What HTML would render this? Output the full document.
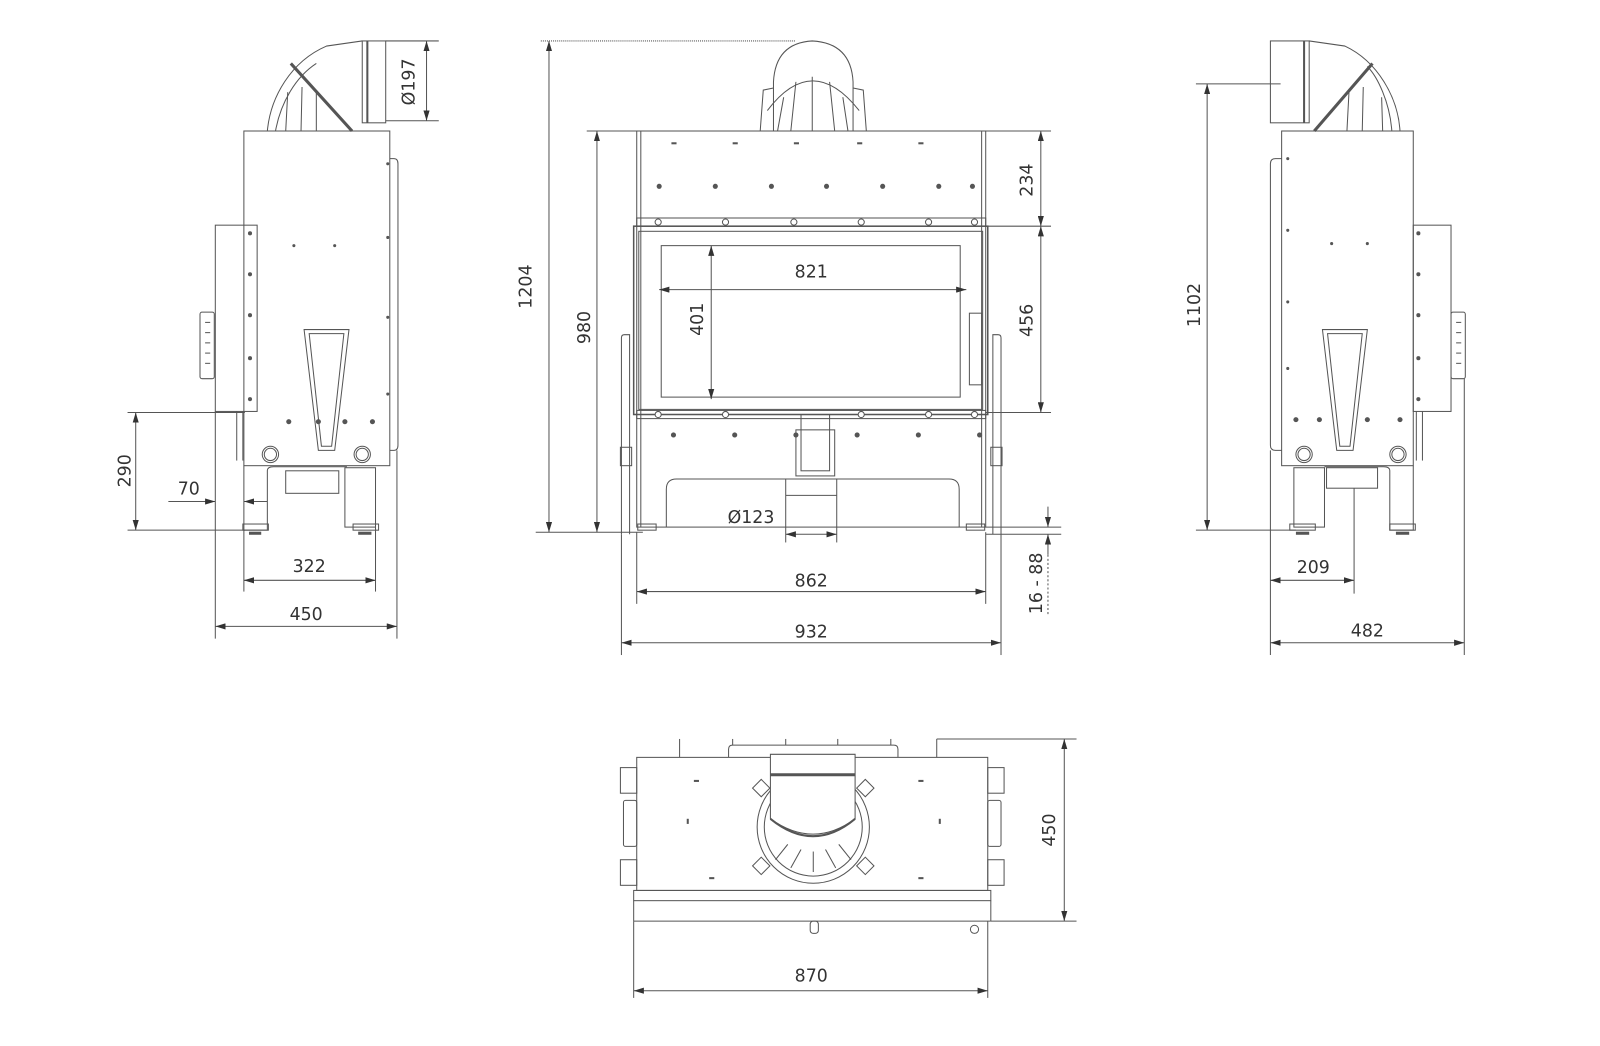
<!DOCTYPE html>
<html><head><meta charset="utf-8"><style>
html,body{margin:0;padding:0;background:#fff;}
svg{display:block;}
text{font-family:"DejaVu Sans","Liberation Sans",sans-serif;font-size:17px;fill:#333;}
</style></head><body>
<svg width="1600" height="1046" viewBox="0 0 1568 1022" preserveAspectRatio="none" xmlns="http://www.w3.org/2000/svg">
<defs>
<marker id="a" viewBox="0 0 10 6" refX="10" refY="3" markerWidth="10" markerHeight="6" orient="auto-start-reverse" markerUnits="userSpaceOnUse"><path d="M0,0 L10,3 L0,6 z" fill="#333"/></marker>
</defs>
<g fill="none" stroke="#555" stroke-width="1">

<!-- ================= LEFT SIDE VIEW ================= -->
<!-- elbow -->
<path d="M262,128 C265,95 285,60 320,45 L355,40"/>
<path d="M270,128 C275,100 290,75 310,62"/>
<path d="M285,62 L345,128" stroke-width="3"/>
<path d="M280,128 L282,90 M295,128 L296,85 M310,128 L310,90"/>
<rect x="355" y="40" width="23" height="80"/>
<line x1="360" y1="40" x2="360" y2="120" stroke-width="2"/>
<!-- body -->
<rect x="239" y="128" width="143" height="327"/>
<path d="M382,155 L386,155 Q390,155 390,160 L390,435 Q390,440 386,440 L382,440"/>
<!-- left box -->
<rect x="211" y="220" width="41" height="182"/>
<rect x="196" y="305" width="14" height="65" rx="2"/>
<line x1="201" y1="315" x2="206" y2="315"/><line x1="201" y1="325" x2="206" y2="325"/><line x1="201" y1="335" x2="206" y2="335"/><line x1="201" y1="345" x2="206" y2="345"/><line x1="201" y1="355" x2="206" y2="355"/>
<line x1="232" y1="402" x2="232" y2="450"/><line x1="238" y1="402" x2="238" y2="450"/>
<!-- trapezoid -->
<path d="M298,322 L342,322 L328,440 L312,440 Z"/>
<path d="M303,326 L337,326 L325,436 L315,436 Z"/>
<!-- circles -->
<circle cx="265" cy="444" r="8"/><circle cx="355" cy="444" r="8"/>
<circle cx="265" cy="444" r="6"/><circle cx="355" cy="444" r="6"/>
<!-- bottom / legs -->
<path d="M239,455 L239,518 M239,518 L262,518 L262,460 Q262,456 268,456 L340,456"/>
<rect x="280" y="460" width="52" height="22"/>
<rect x="338" y="457" width="30" height="58"/>
<rect x="238" y="512" width="25" height="6"/><rect x="346" y="512" width="25" height="6"/>
<line x1="244" y1="521" x2="256" y2="521" stroke-width="3"/><line x1="351" y1="521" x2="364" y2="521" stroke-width="3"/>
<!-- dots -->
<g fill="#555" stroke="none">
<circle cx="288" cy="240" r="1.5"/><circle cx="328" cy="240" r="1.5"/>
<circle cx="245" cy="228" r="2"/><circle cx="245" cy="268" r="2"/><circle cx="245" cy="308" r="2"/><circle cx="245" cy="350" r="2"/><circle cx="245" cy="390" r="2"/>
<circle cx="380" cy="160" r="1.5"/><circle cx="380" cy="232" r="1.5"/><circle cx="380" cy="310" r="1.5"/><circle cx="380" cy="385" r="1.5"/>
<circle cx="283" cy="412" r="2.5"/><circle cx="312" cy="412" r="2.5"/><circle cx="338" cy="412" r="2.5"/><circle cx="365" cy="412" r="2.5"/>
</g>

<!-- left dims -->
<line x1="378" y1="40" x2="430" y2="40"/><line x1="378" y1="118" x2="430" y2="118"/>
<line x1="418" y1="40" x2="418" y2="118" marker-start="url(#a)" marker-end="url(#a)"/>
<line x1="125" y1="403" x2="240" y2="403"/><line x1="125" y1="518" x2="240" y2="518"/>
<line x1="133" y1="403" x2="133" y2="518" marker-start="url(#a)" marker-end="url(#a)"/>
<line x1="165" y1="490" x2="211" y2="490" marker-end="url(#a)"/>
<line x1="262" y1="490" x2="239" y2="490" marker-end="url(#a)"/>
<line x1="211" y1="402" x2="211" y2="624"/><line x1="389" y1="440" x2="389" y2="624"/>
<line x1="239" y1="518" x2="239" y2="578"/><line x1="368" y1="515" x2="368" y2="578"/>
<line x1="239" y1="567" x2="368" y2="567" marker-start="url(#a)" marker-end="url(#a)"/>
<line x1="211" y1="612" x2="389" y2="612" marker-start="url(#a)" marker-end="url(#a)"/>

<!-- ================= FRONT VIEW ================= -->
<!-- dome -->
<path d="M758,128 L758,80 Q760,42 796,40 Q834,42 836,80 L836,128"/>
<path d="M745,128 L748,88 L758,86 M849,128 L846,88 L836,86"/>
<path d="M752,108 Q796,50 842,108"/>
<path d="M775,128 L780,80 M796,128 L796,75 M818,128 L813,80 M762,128 L768,95 M831,128 L826,95"/>
<!-- body -->
<rect x="624" y="128" width="342" height="387"/>
<line x1="628" y1="128" x2="628" y2="515"/><line x1="962" y1="128" x2="962" y2="515"/>
<rect x="624" y="213" width="342" height="8"/>
<rect x="621" y="221" width="347" height="184" stroke-width="1.5"/>
<rect x="626" y="226" width="337" height="174"/>
<rect x="648" y="240" width="293" height="148"/>
<rect x="624" y="401" width="342" height="8"/>
<rect x="950" y="306" width="12" height="70"/>
<!-- side posts -->
<path d="M609,522 L609,330 Q609,327 612,327 L617,327 L617,522"/>
<path d="M981,522 L981,330 Q981,327 978,327 L973,327 L973,522"/>
<rect x="608" y="437" width="11" height="18"/><rect x="971" y="437" width="11" height="18"/>
<!-- center bracket -->
<rect x="785" y="405" width="28" height="55"/><rect x="780" y="420" width="38" height="45"/>
<!-- cutout -->
<path d="M653,515 L653,478 Q653,468 663,468 L930,468 Q940,468 940,478 L940,515"/>
<line x1="770" y1="468" x2="770" y2="515"/><line x1="820" y1="468" x2="820" y2="515"/><line x1="770" y1="484" x2="820" y2="484"/>
<rect x="625" y="512" width="18" height="6"/><rect x="947" y="512" width="18" height="6"/>
<g fill="#555" stroke="none">
<circle cx="646" cy="182" r="2.5"/><circle cx="701" cy="182" r="2.5"/><circle cx="756" cy="182" r="2.5"/><circle cx="810" cy="182" r="2.5"/><circle cx="865" cy="182" r="2.5"/><circle cx="920" cy="182" r="2.5"/><circle cx="974" cy="182" r="0"/><circle cx="953" cy="182" r="2.5"/>
<rect x="658" y="139" width="5" height="2"/><rect x="718" y="139" width="5" height="2"/><rect x="778" y="139" width="5" height="2"/><rect x="840" y="139" width="5" height="2"/><rect x="900" y="139" width="5" height="2"/><rect x="960" y="139" width="0" height="2"/>
<circle cx="660" cy="425" r="2.5"/><circle cx="720" cy="425" r="2.5"/><circle cx="780" cy="425" r="2.5"/><circle cx="840" cy="425" r="2.5"/><circle cx="900" cy="425" r="2.5"/><circle cx="960" cy="425" r="2.5"/>
</g>
<g fill="#fff">
<circle cx="645" cy="217" r="3"/><circle cx="711" cy="217" r="3"/><circle cx="778" cy="217" r="3"/><circle cx="844" cy="217" r="3"/><circle cx="910" cy="217" r="3"/><circle cx="955" cy="217" r="3"/>
<circle cx="645" cy="405" r="3"/><circle cx="711" cy="405" r="3"/><circle cx="844" cy="405" r="3"/><circle cx="910" cy="405" r="3"/><circle cx="955" cy="405" r="3"/>
</g>
<!-- front dims -->
<line x1="530" y1="40" x2="780" y2="40" stroke-dasharray="1 1"/>
<line x1="538" y1="40" x2="538" y2="520" marker-start="url(#a)" marker-end="url(#a)"/>
<line x1="525" y1="520" x2="630" y2="520"/>
<line x1="575" y1="128" x2="624" y2="128"/>
<line x1="585" y1="128" x2="585" y2="520" marker-start="url(#a)" marker-end="url(#a)"/>
<line x1="966" y1="128" x2="1030" y2="128"/><line x1="966" y1="221" x2="1030" y2="221"/><line x1="966" y1="403" x2="1030" y2="403"/>
<line x1="1020" y1="128" x2="1020" y2="221" marker-start="url(#a)" marker-end="url(#a)"/>
<line x1="1020" y1="221" x2="1020" y2="403" marker-start="url(#a)" marker-end="url(#a)"/>
<line x1="966" y1="515" x2="1040" y2="515"/><line x1="966" y1="522" x2="1040" y2="522"/>
<line x1="1027" y1="495" x2="1027" y2="515" marker-end="url(#a)"/>
<line x1="1027" y1="542" x2="1027" y2="522" marker-end="url(#a)"/>
<line x1="1027" y1="542" x2="1027" y2="600" stroke-dasharray="2 2"/>
<line x1="646" y1="283" x2="947" y2="283" marker-start="url(#a)" marker-end="url(#a)"/>
<line x1="697" y1="240" x2="697" y2="390" marker-start="url(#a)" marker-end="url(#a)"/>
<line x1="770" y1="515" x2="770" y2="530"/><line x1="820" y1="515" x2="820" y2="530"/>
<line x1="770" y1="522" x2="820" y2="522" marker-start="url(#a)" marker-end="url(#a)"/>
<line x1="624" y1="520" x2="624" y2="590"/><line x1="966" y1="520" x2="966" y2="590"/>
<line x1="609" y1="522" x2="609" y2="640"/><line x1="981" y1="522" x2="981" y2="640"/>
<line x1="624" y1="578" x2="966" y2="578" marker-start="url(#a)" marker-end="url(#a)"/>
<line x1="609" y1="628" x2="981" y2="628" marker-start="url(#a)" marker-end="url(#a)"/>

<!-- ================= RIGHT SIDE VIEW ================= -->
<rect x="1245" y="40" width="38" height="80"/>
<line x1="1278" y1="40" x2="1278" y2="120" stroke-width="2"/>
<path d="M1283,40 L1318,45 C1350,60 1370,95 1372,128"/>
<path d="M1345,62 L1288,128" stroke-width="3"/>
<path d="M1320,128 L1322,90 M1335,128 L1336,85 M1355,128 L1354,95 M1364,128 C1362,100 1350,75 1340,65"/>
<rect x="1256" y="128" width="129" height="327"/>
<path d="M1256,155 L1250,155 Q1245,155 1245,160 L1245,435 Q1245,440 1250,440 L1256,440"/>
<rect x="1385" y="220" width="37" height="182"/>
<rect x="1422" y="305" width="14" height="65" rx="2"/>
<line x1="1427" y1="315" x2="1432" y2="315"/><line x1="1427" y1="325" x2="1432" y2="325"/><line x1="1427" y1="335" x2="1432" y2="335"/><line x1="1427" y1="345" x2="1432" y2="345"/><line x1="1427" y1="355" x2="1432" y2="355"/>
<line x1="1388" y1="402" x2="1388" y2="450"/><line x1="1394" y1="402" x2="1394" y2="450"/>
<path d="M1296,322 L1340,322 L1326,440 L1310,440 Z"/>
<path d="M1301,326 L1335,326 L1323,436 L1313,436 Z"/>
<circle cx="1278" cy="444" r="8"/><circle cx="1370" cy="444" r="8"/>
<circle cx="1278" cy="444" r="6"/><circle cx="1370" cy="444" r="6"/>
<path d="M1385,455 L1385,518 L1362,518 L1362,460 Q1362,456 1356,456 L1298,456"/>
<rect x="1268" y="457" width="30" height="58"/>
<rect x="1300" y="457" width="50" height="20"/>
<rect x="1264" y="512" width="25" height="6"/><rect x="1362" y="512" width="25" height="6"/>
<line x1="1270" y1="521" x2="1283" y2="521" stroke-width="3"/><line x1="1368" y1="521" x2="1381" y2="521" stroke-width="3"/>
<g fill="#555" stroke="none">
<circle cx="1305" cy="238" r="1.5"/><circle cx="1340" cy="238" r="1.5"/>
<circle cx="1390" cy="228" r="2"/><circle cx="1390" cy="268" r="2"/><circle cx="1390" cy="308" r="2"/><circle cx="1390" cy="350" r="2"/><circle cx="1390" cy="390" r="2"/>
<circle cx="1262" cy="155" r="1.5"/><circle cx="1262" cy="225" r="1.5"/><circle cx="1262" cy="295" r="1.5"/><circle cx="1262" cy="360" r="1.5"/>
<circle cx="1270" cy="410" r="2.5"/><circle cx="1293" cy="410" r="2.5"/><circle cx="1340" cy="410" r="2.5"/><circle cx="1372" cy="410" r="2.5"/>
</g>
<line x1="1172" y1="82" x2="1255" y2="82"/><line x1="1172" y1="518" x2="1270" y2="518"/>
<line x1="1183" y1="82" x2="1183" y2="518" marker-start="url(#a)" marker-end="url(#a)"/>
<line x1="1245" y1="440" x2="1245" y2="640"/><line x1="1435" y1="370" x2="1435" y2="640"/>
<line x1="1327" y1="477" x2="1327" y2="580"/>
<line x1="1245" y1="567" x2="1327" y2="567" marker-start="url(#a)" marker-end="url(#a)"/>
<line x1="1245" y1="628" x2="1435" y2="628" marker-start="url(#a)" marker-end="url(#a)"/>

<!-- ================= TOP VIEW ================= -->
<path d="M714,740 L714,732 Q714,728 718,728 L876,728 Q880,728 880,732 L880,740"/>
<line x1="666" y1="740" x2="666" y2="722"/><line x1="718" y1="728" x2="718" y2="722"/><line x1="770" y1="728" x2="770" y2="722"/><line x1="821" y1="728" x2="821" y2="722"/><line x1="873" y1="728" x2="873" y2="722"/>
<rect x="624" y="740" width="344" height="130"/>
<rect x="621" y="870" width="350" height="10"/>
<line x1="621" y1="880" x2="621" y2="900"/><line x1="971" y1="880" x2="971" y2="900"/>
<line x1="621" y1="900" x2="971" y2="900"/>
<rect x="608" y="750" width="16" height="25"/><rect x="608" y="840" width="16" height="25"/>
<rect x="611" y="782" width="13" height="45" rx="2"/>
<rect x="968" y="750" width="16" height="25"/><rect x="968" y="840" width="16" height="25"/>
<rect x="968" y="782" width="13" height="45" rx="2"/>
<circle cx="797" cy="808" r="55"/>
<circle cx="797" cy="808" r="48"/>
<path d="M755,737 L838,737 L838,800 Q797,830 755,800 Z" fill="#fff"/>
<line x1="755" y1="757" x2="838" y2="757" stroke-width="3"/>
<path d="M755,800 Q797,834 838,800" stroke-width="2"/>
<rect x="740" y="764" width="12" height="12" transform="rotate(45 746 770)"/>
<rect x="842" y="764" width="12" height="12" transform="rotate(45 848 770)"/>
<rect x="740" y="840" width="12" height="12" transform="rotate(45 746 846)"/>
<rect x="842" y="840" width="12" height="12" transform="rotate(45 848 846)"/>
<line x1="775" y1="848" x2="785" y2="830"/><line x1="797" y1="852" x2="797" y2="832"/><line x1="819" y1="848" x2="809" y2="830"/>
<line x1="760" y1="840" x2="772" y2="825"/><line x1="834" y1="840" x2="822" y2="825"/>
<rect x="794" y="900" width="8" height="12" rx="3"/>
<circle cx="955" cy="908" r="4"/>
<line x1="918" y1="740" x2="918" y2="722"/>
<line x1="918" y1="722" x2="1055" y2="722"/><line x1="971" y1="900" x2="1055" y2="900"/>
<line x1="1043" y1="722" x2="1043" y2="900" marker-start="url(#a)" marker-end="url(#a)"/>
<line x1="621" y1="900" x2="621" y2="975"/><line x1="968" y1="900" x2="968" y2="975"/>
<line x1="621" y1="968" x2="968" y2="968" marker-start="url(#a)" marker-end="url(#a)"/>
<g fill="#555" stroke="none">
<rect x="680" y="762" width="5" height="2"/><rect x="900" y="762" width="5" height="2"/>
<rect x="673" y="800" width="2" height="5"/><rect x="920" y="800" width="2" height="5"/>
<rect x="695" y="857" width="5" height="2"/><rect x="900" y="857" width="5" height="2"/>
</g>
</g>

<!-- Labels -->
<text x="406" y="80" transform="rotate(-90 406 80)" text-anchor="middle">Ø197</text>
<text x="128" y="460" transform="rotate(-90 128 460)" text-anchor="middle">290</text>
<text x="185" y="483" text-anchor="middle">70</text>
<text x="303" y="559" text-anchor="middle">322</text>
<text x="300" y="606" text-anchor="middle">450</text>

<text x="521" y="280" transform="rotate(-90 521 280)" text-anchor="middle">1204</text>
<text x="578" y="320" transform="rotate(-90 578 320)" text-anchor="middle">980</text>
<text x="1012" y="176" transform="rotate(-90 1012 176)" text-anchor="middle">234</text>
<text x="1012" y="313" transform="rotate(-90 1012 313)" text-anchor="middle">456</text>
<text x="1021" y="570" transform="rotate(-90 1021 570)" text-anchor="middle">16 - 88</text>
<text x="795" y="271" text-anchor="middle">821</text>
<text x="689" y="312" transform="rotate(-90 689 312)" text-anchor="middle">401</text>
<text x="736" y="511" text-anchor="middle">Ø123</text>
<text x="795" y="573" text-anchor="middle">862</text>
<text x="795" y="623" text-anchor="middle">932</text>

<text x="1176" y="298" transform="rotate(-90 1176 298)" text-anchor="middle">1102</text>
<text x="1287" y="560" text-anchor="middle">209</text>
<text x="1340" y="622" text-anchor="middle">482</text>

<text x="1034" y="811" transform="rotate(-90 1034 811)" text-anchor="middle">450</text>
<text x="795" y="959" text-anchor="middle">870</text>
</svg>
</body></html>
